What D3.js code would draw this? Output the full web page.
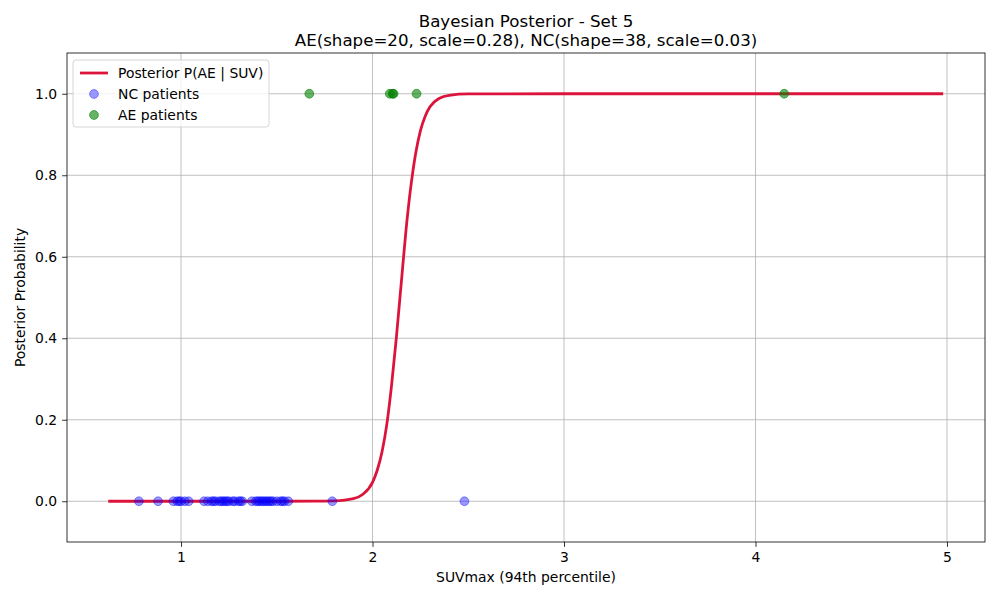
<!DOCTYPE html>
<html>
<head>
<meta charset="utf-8">
<script src="https://cdn.jsdelivr.net/npm/d3@7/dist/d3.min.js"></script>
<style>
  body { margin: 0; background: #fff; }
  svg { font-family: "DejaVu Sans", sans-serif; }
</style>
</head>
<body>
<svg id="chart" width="1000" height="600"></svg>
<script>
// ---- data ----
const titleLines = ["Bayesian Posterior - Set 5", "AE(shape=20, scale=0.28), NC(shape=38, scale=0.03)"];
const curveX = [0.62, 1.0, 1.5, 1.7, 1.8, 1.9, 1.95, 2.0, 2.025, 2.05, 2.075, 2.1, 2.125, 2.15, 2.175, 2.2, 2.225, 2.25, 2.275, 2.3, 2.35, 2.4, 2.5, 3.0, 4.0, 4.98];
const curveY = [0.0, 0.0, 0.0, 0.0001, 0.0009, 0.0063, 0.0171, 0.0465, 0.0766, 0.122, 0.190, 0.287, 0.404, 0.535, 0.666, 0.772, 0.853, 0.909, 0.945, 0.968, 0.989, 0.9963, 0.9996, 1.0, 1.0, 1.0];
const ncX = [0.78, 0.88, 0.96, 0.98, 0.99, 1.00, 1.02, 1.04, 1.12, 1.14, 1.16, 1.17, 1.18, 1.20, 1.21, 1.22, 1.23, 1.24, 1.25, 1.27, 1.28, 1.30, 1.31, 1.32, 1.37, 1.39, 1.40, 1.41, 1.42, 1.43, 1.44, 1.45, 1.46, 1.47, 1.48, 1.50, 1.52, 1.53, 1.54, 1.56, 1.79, 2.48];
const ncY = ncX.map(() => 0);
const aeX = [1.67, 2.09, 2.105, 2.11, 2.23, 4.15];
const aeY = aeX.map(() => 1);
const xTicks = [1, 2, 3, 4, 5];
const yTicks = [0.0, 0.2, 0.4, 0.6, 0.8, 1.0];
const legendLabels = ["Posterior P(AE | SUV)", "NC patients", "AE patients"];

// ---- layout ----
const svg = d3.select("#chart");
const L = 67, R = 985, T = 53, B = 542;
const x = d3.scaleLinear().domain([0.4045, 5.1985]).range([L, R]);
const y = d3.scaleLinear().domain([-0.1, 1.1]).range([B, T]);

// grid
const g = svg.append("g");
g.selectAll(".gx").data(xTicks).enter().append("line")
  .attr("x1", d => x(d)).attr("x2", d => x(d)).attr("y1", T).attr("y2", B)
  .attr("stroke", "#b0b0b0").attr("stroke-width", 0.8);
g.selectAll(".gy").data(yTicks).enter().append("line")
  .attr("x1", L).attr("x2", R).attr("y1", d => y(d)).attr("y2", d => y(d))
  .attr("stroke", "#b0b0b0").attr("stroke-width", 0.8);

// axes
const xAxis = d3.axisBottom(x).tickValues(xTicks).tickFormat(d3.format("d")).tickSize(4.9).tickPadding(4.9);
const yAxis = d3.axisLeft(y).tickValues(yTicks).tickFormat(d3.format(".1f")).tickSize(4.9).tickPadding(4.9);
const xa = svg.append("g").attr("transform", `translate(0,${B})`).call(xAxis);
const ya = svg.append("g").attr("transform", `translate(${L},0)`).call(yAxis);
[xa, ya].forEach(a => {
  a.select(".domain").remove();
  a.selectAll("text").attr("font-size", "13.9px").attr("fill", "#000").attr("font-family", "DejaVu Sans");
  a.selectAll("line").attr("stroke", "#000").attr("stroke-width", 0.8);
});

// data marks
const clip = svg.append("clipPath").attr("id", "clip").append("rect")
  .attr("x", L).attr("y", T).attr("width", R - L).attr("height", B - T);
const plot = svg.append("g").attr("clip-path", "url(#clip)");

const line = d3.line().x(d => x(d[0])).y(d => y(d[1])).curve(d3.curveMonotoneX);
plot.append("path").datum(curveX.map((v, i) => [v, curveY[i]]))
  .attr("d", line).attr("fill", "none").attr("stroke", "crimson").attr("stroke-width", 2.78);

plot.selectAll(".nc").data(ncX).enter().append("circle")
  .attr("cx", d => x(d)).attr("cy", (d, i) => y(ncY[i])).attr("r", 4.4)
  .attr("fill", "blue").attr("fill-opacity", 0.4)
  .attr("stroke", "blue").attr("stroke-opacity", 0.4).attr("stroke-width", 1);

plot.selectAll(".ae").data(aeX).enter().append("circle")
  .attr("cx", d => x(d)).attr("cy", (d, i) => y(aeY[i])).attr("r", 4.4)
  .attr("fill", "green").attr("fill-opacity", 0.6)
  .attr("stroke", "green").attr("stroke-opacity", 0.6).attr("stroke-width", 1);

// frame
svg.append("rect").attr("x", L).attr("y", T).attr("width", R - L).attr("height", B - T)
  .attr("fill", "none").attr("stroke", "#000").attr("stroke-width", 0.8);

// titles & labels
svg.selectAll(".title").data(titleLines).enter().append("text")
  .attr("x", (L + R) / 2).attr("y", (d, i) => 27 + i * 18.5)
  .attr("text-anchor", "middle").attr("font-size", "16.67px").text(d => d);
svg.append("text").attr("x", (L + R) / 2).attr("y", 582)
  .attr("text-anchor", "middle").attr("font-size", "13.9px").text("SUVmax (94th percentile)");
svg.append("text").attr("transform", `translate(25,${(T + B) / 2}) rotate(-90)`)
  .attr("text-anchor", "middle").attr("font-size", "13.9px").text("Posterior Probability");

// legend
const lg = svg.append("g");
lg.append("rect").attr("x", 73).attr("y", 60).attr("width", 196).attr("height", 67).attr("rx", 3)
  .attr("fill", "#fff").attr("fill-opacity", 0.8).attr("stroke", "#cccccc").attr("stroke-width", 0.8);
lg.append("line").attr("x1", 80).attr("x2", 108).attr("y1", 73).attr("y2", 73)
  .attr("stroke", "crimson").attr("stroke-width", 2.78);
lg.append("circle").attr("cx", 94).attr("cy", 94).attr("r", 4.4)
  .attr("fill", "blue").attr("fill-opacity", 0.4).attr("stroke", "blue").attr("stroke-opacity", 0.4);
lg.append("circle").attr("cx", 94).attr("cy", 115).attr("r", 4.4)
  .attr("fill", "green").attr("fill-opacity", 0.6).attr("stroke", "green").attr("stroke-opacity", 0.6);
lg.selectAll(".lt").data(legendLabels).enter().append("text")
  .attr("x", 118).attr("y", (d, i) => 78 + i * 21)
  .attr("font-size", "13.9px").text(d => d);
</script>
</body>
</html>
